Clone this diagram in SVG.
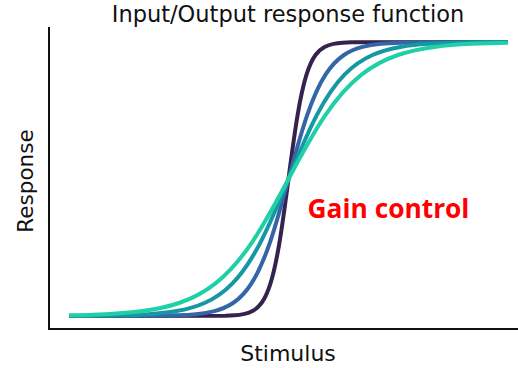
<svg xmlns="http://www.w3.org/2000/svg" width="518" height="368" viewBox="0 0 518 368">
<style>
.lbl{font-family:"DejaVu Sans","Liberation Sans",sans-serif;fill:#111;}
.crv{fill:none;stroke-width:4;stroke-linecap:butt;stroke-linejoin:round;}
.ax{fill:none;stroke:#111;stroke-width:2;}
</style>
<rect width="518" height="368" fill="#fff"/>
<g id="axes">
<path class="ax" d="M49,27 V329 H518"/>
</g>
<g id="curves">
<path id="c1" class="crv" stroke="#35224f" d="M69,316 L225.5,315.75 C228.5,315.67 231.5,315.55 234.5,315.32 C237.5,315.09 240.5,314.77 243.5,314.16 C246.5,313.55 249.5,312.68 252.5,311.07 C255.5,309.46 258.5,307.14 261.5,303.01 C264.5,298.88 267.5,292.93 270.5,283.34 C273.5,273.75 276.5,260.28 279.5,242.32 C282.5,224.36 285.5,201.83 288.5,179 C291.5,156.17 294.5,133.64 297.5,115.68 C300.5,97.72 303.5,84.25 306.5,74.66 C309.5,65.07 312.5,59.12 315.5,54.99 C318.5,50.86 321.5,48.54 324.5,46.93 C327.5,45.32 330.5,44.45 333.5,43.84 C336.5,43.23 339.5,42.91 342.5,42.68 C345.5,42.45 348.5,42.33 351.5,42.25 L508,42"/>
<path id="c2" class="crv" stroke="#3466a6" d="M69,316 L159,315.75 C165.17,315.67 171.33,315.55 177.5,315.32 C183.67,315.09 189.83,314.77 196,314.16 C202.17,313.55 208.33,312.68 214.5,311.07 C220.67,309.46 226.83,307.14 233,303.01 C239.17,298.88 245.33,292.93 251.5,283.34 C257.67,273.75 263.83,260.28 270,242.32 C276.17,224.36 282.33,201.83 288.5,179 C294.67,156.17 300.83,133.64 307,115.68 C313.17,97.72 319.33,84.25 325.5,74.66 C331.67,65.07 337.83,59.12 344,54.99 C350.17,50.86 356.33,48.54 362.5,46.93 C368.67,45.32 374.83,44.45 381,43.84 C387.17,43.23 393.33,42.91 399.5,42.68 C405.67,42.45 411.83,42.33 418,42.25 L508,42"/>
<path id="c3" class="crv" stroke="#1598a4" d="M69,316 L92.5,315.75 C101.83,315.67 111.17,315.55 120.5,315.32 C129.83,315.09 139.17,314.77 148.5,314.16 C157.83,313.55 167.17,312.68 176.5,311.07 C185.83,309.46 195.17,307.14 204.5,303.01 C213.83,298.88 223.17,292.93 232.5,283.34 C241.83,273.75 251.17,260.28 260.5,242.32 C269.83,224.36 279.17,201.83 288.5,179 C297.83,156.17 307.17,133.64 316.5,115.68 C325.83,97.72 335.17,84.25 344.5,74.66 C353.83,65.07 363.17,59.12 372.5,54.99 C381.83,50.86 391.17,48.54 400.5,46.93 C409.83,45.32 419.17,44.45 428.5,43.84 C437.83,43.23 447.17,42.91 456.5,42.68 C465.83,42.45 475.17,42.33 484.5,42.25 L508,42"/>
<path id="c4" class="crv" stroke="#1fd0a6" d="M69,315.4 L69.5,315.32 C81.67,315.09 93.830,314.77 106,314.16 C118.17,313.55 130.33,312.68 142.5,311.07 C154.67,309.46 166.83,307.14 179,303.01 C191.17,298.88 203.33,292.93 215.5,283.34 C227.67,273.75 239.83,260.28 252,242.32 C264.17,224.36 276.33,201.83 288.5,179 C300.67,156.17 312.83,133.64 325,115.68 C337.17,97.72 349.33,84.25 361.5,74.66 C373.67,65.07 385.83,59.12 398,54.99 C410.17,50.86 422.33,48.54 434.5,46.93 C446.67,45.32 458.83,44.45 471,43.84 C483.17,43.23 495.33,42.91 507.5,42.68 L508,42.6"/>
</g>
<g id="title"><text class="lbl" x="288" y="22" font-size="22.5" text-anchor="middle">Input/Output response function</text></g>
<g id="xlabel"><text class="lbl" x="288" y="361" font-size="22" text-anchor="middle">Stimulus</text></g>
<g id="ylabel"><text class="lbl" transform="translate(33,181) rotate(-90)" font-size="21.5" text-anchor="middle">Response</text></g>
<g id="gain"><text x="388.5" y="218" font-family="'Open Sans','Liberation Sans',sans-serif" font-weight="bold" font-size="26.3" fill="#ff0000" text-anchor="middle">Gain control</text></g>
</svg>
